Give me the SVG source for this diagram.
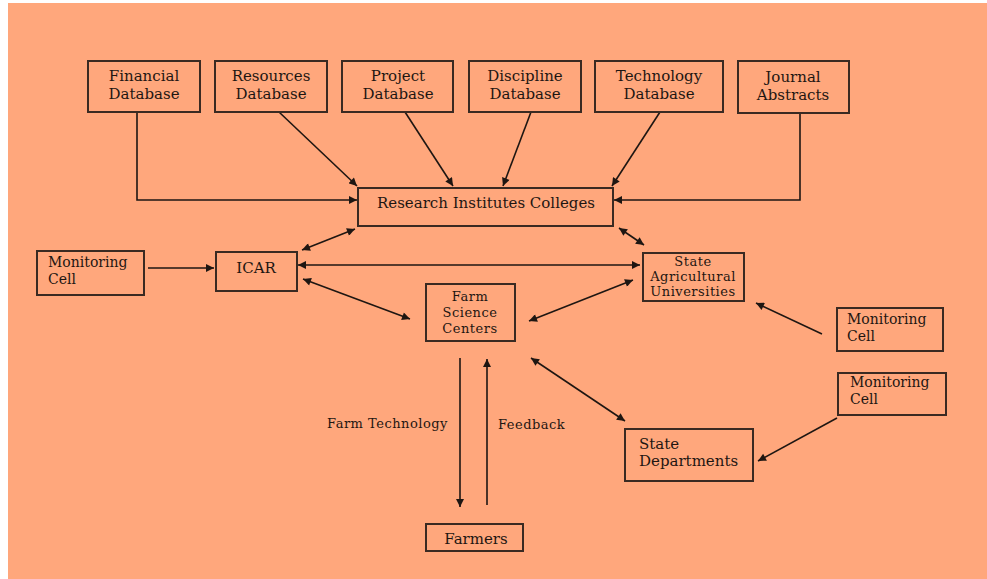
<svg xmlns="http://www.w3.org/2000/svg" width="987" height="579" viewBox="0 0 987 579">
<defs>
<style>
.bg{fill:#FFA77C}
.box{fill:none;stroke:#3a2a22;stroke-width:2}
.t{font-family:"DejaVu Serif","Liberation Serif",serif;font-size:15px;fill:#1e1612}
.s{font-size:13px}
.m{font-size:14px}
.w{letter-spacing:0.5px}
.c{text-anchor:middle}
.ln{fill:none;stroke:#1e1612;stroke-width:1.6}
</style>
<marker id="ah" viewBox="0 0 10 10" refX="10" refY="5" markerWidth="9" markerHeight="8" markerUnits="userSpaceOnUse" orient="auto-start-reverse">
<path d="M0,0 L10,5 L0,10 Z" fill="#1e1612"/>
</marker>
</defs>
<rect x="0" y="0" width="987" height="579" fill="#ffffff"/>
<rect class="bg" x="8" y="3" width="979" height="576"/>

<g id="connectors">
<polyline class="ln" points="137,112 137,200 357,200" marker-end="url(#ah)"/>
<line class="ln" x1="279" y1="112" x2="357" y2="186" marker-end="url(#ah)"/>
<line class="ln" x1="405" y1="112" x2="453" y2="186" marker-end="url(#ah)"/>
<line class="ln" x1="531" y1="112" x2="503" y2="186" marker-end="url(#ah)"/>
<line class="ln" x1="660" y1="112" x2="612" y2="186" marker-end="url(#ah)"/>
<polyline class="ln" points="800,113 800,200 614,200" marker-end="url(#ah)"/>
<line class="ln" x1="148" y1="268" x2="214" y2="268" marker-end="url(#ah)"/>
<line class="ln" x1="302" y1="250" x2="355" y2="229" marker-start="url(#ah)" marker-end="url(#ah)"/>
<line class="ln" x1="298" y1="265" x2="640" y2="265" marker-start="url(#ah)" marker-end="url(#ah)"/>
<line class="ln" x1="303" y1="279" x2="410" y2="319" marker-start="url(#ah)" marker-end="url(#ah)"/>
<line class="ln" x1="619" y1="228" x2="644" y2="245" marker-start="url(#ah)" marker-end="url(#ah)"/>
<line class="ln" x1="529" y1="321" x2="633" y2="280" marker-start="url(#ah)" marker-end="url(#ah)"/>
<line class="ln" x1="822" y1="334" x2="756" y2="303" marker-end="url(#ah)"/>
<line class="ln" x1="837" y1="418" x2="758" y2="461" marker-end="url(#ah)"/>
<line class="ln" x1="531" y1="358" x2="625" y2="421" marker-start="url(#ah)" marker-end="url(#ah)"/>
<line class="ln" x1="460" y1="358" x2="460" y2="507" marker-end="url(#ah)"/>
<line class="ln" x1="487" y1="505" x2="487" y2="359" marker-end="url(#ah)"/>
<text class="t s w" x="327" y="428">Farm Technology</text>
<text class="t s w" x="498" y="429">Feedback</text>
</g>

<g id="financial">
<rect class="box" x="88" y="61" width="112" height="51"/>
<text class="t c" x="144" y="81">Financial</text>
<text class="t c" x="144" y="99">Database</text>
</g>
<g id="resources">
<rect class="box" x="215" y="61" width="112" height="51"/>
<text class="t c" x="271" y="81">Resources</text>
<text class="t c" x="271" y="99">Database</text>
</g>
<g id="project">
<rect class="box" x="342" y="61" width="111" height="51"/>
<text class="t c" x="398" y="81">Project</text>
<text class="t c" x="398" y="99">Database</text>
</g>
<g id="discipline">
<rect class="box" x="469" y="61" width="112" height="51"/>
<text class="t c" x="525" y="81">Discipline</text>
<text class="t c" x="525" y="99">Database</text>
</g>
<g id="technology">
<rect class="box" x="595" y="61" width="128" height="51"/>
<text class="t c" x="659" y="81">Technology</text>
<text class="t c" x="659" y="99">Database</text>
</g>
<g id="journal">
<rect class="box" x="738" y="61" width="111" height="52"/>
<text class="t c" x="793" y="82">Journal</text>
<text class="t c" x="793" y="100">Abstracts</text>
</g>
<g id="research">
<rect class="box" x="358" y="188" width="255" height="38"/>
<text class="t c" x="486" y="208">Research Institutes Colleges</text>
</g>
<g id="monitoring-left">
<rect class="box" x="37" y="251" width="107" height="44"/>
<text class="t m" x="48" y="267">Monitoring</text>
<text class="t m" x="48" y="284">Cell</text>
</g>
<g id="icar">
<rect class="box" x="216" y="252" width="81" height="39"/>
<text class="t c" x="256" y="273" font-size="17">ICAR</text>
</g>
<g id="sau">
<rect class="box" x="643" y="253" width="101" height="48"/>
<text class="t c s w" x="693" y="266">State</text>
<text class="t c s w" x="693" y="281">Agricultural</text>
<text class="t c s w" x="693" y="296">Universities</text>
</g>
<g id="farm-science">
<rect class="box" x="426" y="284" width="89" height="57"/>
<text class="t c s w" x="470" y="301">Farm</text>
<text class="t c s w" x="470" y="317">Science</text>
<text class="t c s w" x="470" y="333">Centers</text>
</g>
<g id="monitoring-right1">
<rect class="box" x="837" y="308" width="106" height="43"/>
<text class="t m" x="847" y="324">Monitoring</text>
<text class="t m" x="847" y="341">Cell</text>
</g>
<g id="monitoring-right2">
<rect class="box" x="838" y="373" width="108" height="42"/>
<text class="t m" x="850" y="387">Monitoring</text>
<text class="t m" x="850" y="404">Cell</text>
</g>
<g id="state-departments">
<rect class="box" x="625" y="429" width="128" height="52"/>
<text class="t" x="639" y="449">State</text>
<text class="t" x="639" y="466">Departments</text>
</g>
<g id="farmers">
<rect class="box" x="426" y="524" width="97" height="27"/>
<text class="t c" x="476" y="544">Farmers</text>
</g>
</svg>
